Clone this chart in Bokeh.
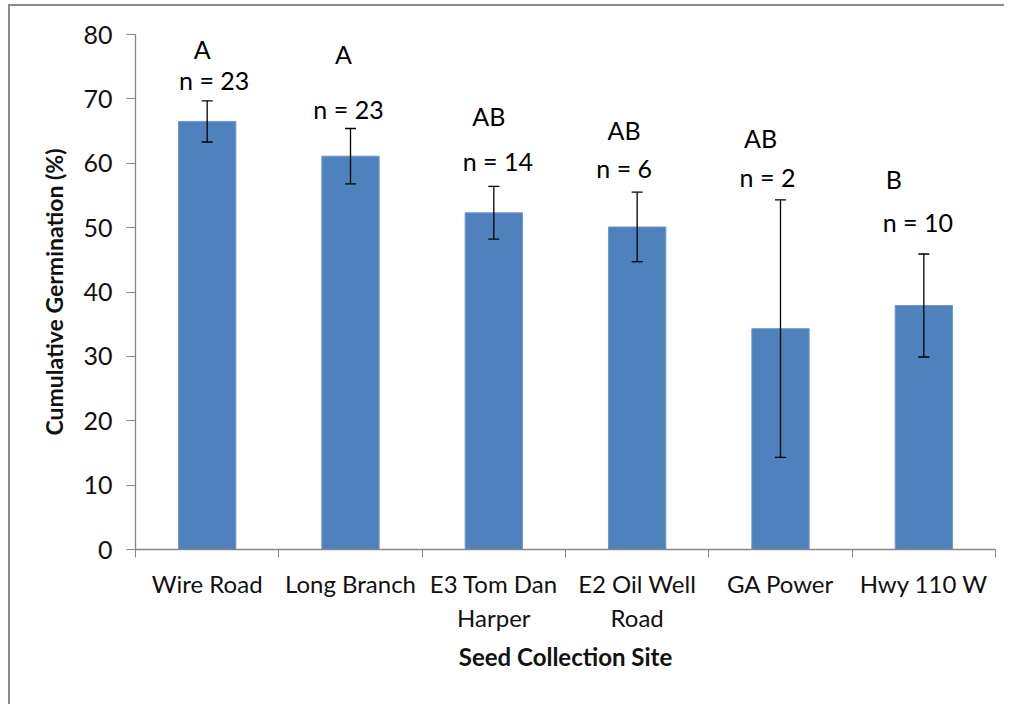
from bokeh.plotting import figure
from bokeh.models import (ColumnDataSource, Range1d, FixedTicker, Whisker, TeeHead)
from bokeh.core.properties import value
from bokeh.embed import file_html
from bokeh.resources import INLINE
import numpy as np

# ---- data ----
sites = ["Wire Road", "Long Branch", "E3 Tom Dan\nHarper", "E2 Oil Well\nRoad", "GA Power", "Hwy 110 W"]
germination = [66.5, 61.1, 52.3, 50.1, 34.3, 37.9]
std_error = [3.2, 4.3, 4.1, 5.4, 20.0, 8.0]
letters = ["A", "A", "AB", "AB", "AB", "B"]
n_labels = ["n = 23", "n = 23", "n = 14", "n = 6", "n = 2", "n = 10"]

# label placement (data units / pixel nudges)
letter_y = [77.7, 77.0, 67.3, 65.1, 64.0, 57.6]
n_y = [72.9, 68.5, 60.4, 59.3, 57.9, 50.8]
letter_dx = [-5, -7, -5, -13, -20, -30]
n_dx = [7, -2, 4, -13, -13, -6]

FONT = "Lato"
BAR = "#4F81BD"
TXT = "#111111"
AXC = "#868686"
FRAME = "#8c8c8c"

idx = np.arange(len(sites))
xc = idx + 0.5
ge = np.array(germination)
se = np.array(std_error)

src = ColumnDataSource(dict(x=xc, top=ge, upper=ge + se, lower=ge - se,
                            letter=letters, ly=letter_y, ldx=letter_dx,
                            n=n_labels, ny=n_y, ndx=n_dx))

frame_css = {
    "background-color": "white",
    "background-image": f"linear-gradient({FRAME},{FRAME})",
    "background-position": "left 8px top 4px",
    "background-size": "100% 2px",
    "background-repeat": "no-repeat",
}
left_edge_css = (
    ":host::before {"
    " content: ''; position: absolute; left: 8px; top: 4px;"
    f" width: 2px; height: 700px; background: {FRAME};"
    " pointer-events: none;"
    " }"
)

p = figure(width=1004, height=696, output_backend="svg", toolbar_location=None,
           x_range=Range1d(0, len(sites)), y_range=Range1d(0, 80),
           min_border_left=135, min_border_right=9, min_border_top=34, min_border_bottom=147,
           styles=frame_css, stylesheets=[left_edge_css])
p.outline_line_color = None
p.xgrid.visible = False
p.ygrid.visible = False
p.background_fill_color = None
p.border_fill_color = None

p.vbar(x="x", top="top", bottom=0, width=0.4, source=src,
       fill_color=BAR, line_color="#6f98cc", line_width=1)

w = Whisker(base="x", upper="upper", lower="lower", source=src, level="overlay",
            line_color="black", line_width=1.3,
            upper_head=TeeHead(size=11, line_color="black", line_width=1.3),
            lower_head=TeeHead(size=11, line_color="black", line_width=1.3))
p.add_layout(w)

p.text(x="x", y="ly", text="letter", x_offset="ldx", source=src,
       text_font=value(FONT), text_font_size="25px", text_color="black",
       text_align="center", text_baseline="middle")
p.text(x="x", y="ny", text="n", x_offset="ndx", source=src,
       text_font=value(FONT), text_font_size="25px", text_color="black",
       text_align="center", text_baseline="middle")

# x axis: labels at category centres, tick marks at category boundaries
xa = p.xaxis[0]
xa.ticker = FixedTicker(ticks=list(xc), minor_ticks=list(np.arange(len(sites) + 1)))
xa.major_label_overrides = {float(v): s for v, s in zip(xc, sites)}
xa.major_tick_out = 0
xa.major_tick_in = 0
xa.minor_tick_out = 8
xa.minor_tick_in = 0
xa.minor_tick_line_color = AXC
xa.axis_line_color = AXC
xa.axis_line_width = 1.3
xa.major_label_text_font = FONT
xa.major_label_text_font_size = "24px"
xa.major_label_text_color = TXT
xa.major_label_standoff = 11
xa.axis_label = "Seed Collection Site"
xa.axis_label_text_font = FONT
xa.axis_label_text_font_style = "bold"
xa.axis_label_text_font_size = "24px"
xa.axis_label_text_color = TXT
xa.axis_label_standoff = 7

ya = p.yaxis[0]
ya.ticker = FixedTicker(ticks=list(range(0, 81, 10)))
ya.major_tick_out = 9
ya.major_tick_in = 0
ya.minor_tick_out = 0
ya.minor_tick_in = 0
ya.major_tick_line_color = AXC
ya.axis_line_color = AXC
ya.axis_line_width = 1.3
ya.major_label_text_font = FONT
ya.major_label_text_font_size = "25px"
ya.major_label_text_color = TXT
ya.major_label_standoff = 14
ya.axis_label = "Cumulative Germination (%)"
ya.axis_label_text_font = FONT
ya.axis_label_text_font_style = "bold"
ya.axis_label_text_font_size = "23px"
ya.axis_label_text_color = TXT
ya.axis_label_standoff = 12

open("out.html", "w").write(file_html(p, INLINE))
